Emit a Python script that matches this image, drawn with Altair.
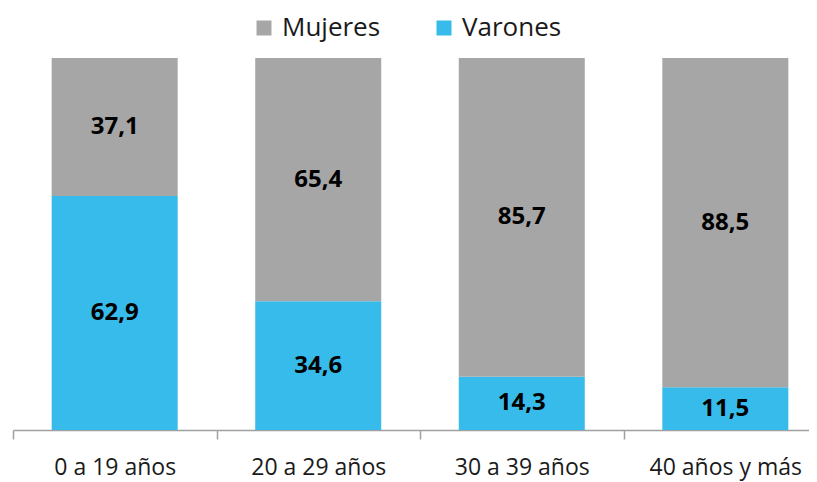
import altair as alt
import pandas as pd

categories = ["0 a 19 años", "20 a 29 años", "30 a 39 años", "40 años y más"]
mujeres = [37.1, 65.4, 85.7, 88.5]
varones = [62.9, 34.6, 14.3, 11.5]
series = ["Mujeres", "Varones"]
colors = ["#a6a6a6", "#37bbeb"]

rows = []
for c, m, v in zip(categories, mujeres, varones):
    rows.append({"cat": c, "serie": "Varones", "val": v, "ord": 0,
                 "lbl": f"{v:.1f}".replace(".", ",")})
    rows.append({"cat": c, "serie": "Mujeres", "val": m, "ord": 1,
                 "lbl": f"{m:.1f}".replace(".", ",")})
df = pd.DataFrame(rows)

FONT = "Open Sans"
RANGE = [0, 814]

xb = alt.X("cat:N", sort=categories, title=None,
           scale=alt.Scale(paddingInner=0.381, paddingOuter=0.19, range=RANGE),
           axis=None)

base = alt.Chart(df).transform_stack(
    stack="val", groupby=["cat"], as_=["y0", "y1"],
    sort=[alt.SortField("ord", order="ascending")]
).transform_calculate(mid="(datum.y0 + datum.y1) / 2")

bars = base.mark_bar().encode(
    x=xb,
    y=alt.Y("y0:Q", scale=alt.Scale(domain=[0, 100]), axis=None),
    y2="y1:Q",
    color=alt.Color("serie:N", scale=alt.Scale(domain=series, range=colors),
                    legend=alt.Legend(title=None, orient="none", direction="horizontal",
                                      legendX=238, legendY=-43, symbolType="square",
                                      symbolSize=225, symbolStrokeWidth=0,
                                      labelFontSize=26, labelFont=FONT,
                                      labelColor="#1a1a1a", columnPadding=50,
                                      labelOffset=5, symbolOpacity=1)),
)

texts = base.mark_text(font=FONT, fontSize=24, fontWeight="bold", color="black").encode(
    x=xb,
    y=alt.Y("mid:Q", scale=alt.Scale(domain=[0, 100])),
    text="lbl:N",
)

axis_layer = alt.Chart(df).mark_point(opacity=0).encode(
    x=alt.X("cat:N", sort=categories, title=None,
            scale=alt.Scale(paddingInner=0, paddingOuter=0, range=RANGE),
            axis=alt.Axis(labelAngle=0, tickBand="extent", domainColor="#a0a0a0",
                          tickColor="#a0a0a0", tickSize=9, labelFontSize=23,
                          labelFont=FONT, labelColor="#1a1a1a", labelPadding=17,
                          domainWidth=1.5, tickWidth=1.5)),
)

chart = alt.layer(bars, texts, axis_layer).resolve_scale(x="independent").properties(
    width=796, height=372,
    autosize=alt.AutoSizeParams(type="none"),
    padding={"left": 5, "top": 50, "right": 0, "bottom": 52},
).configure_view(stroke=None)

chart.save("out.html", embed_options={"renderer": "svg", "actions": False})
